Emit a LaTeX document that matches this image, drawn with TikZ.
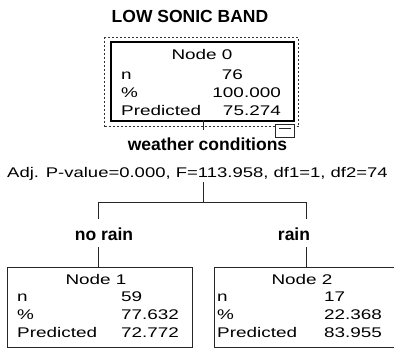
\documentclass[tikz,border=0pt]{standalone}
\usepackage{fontspec}
\setmainfont{Liberation Sans}
\newfontfamily\spss[FakeStretch=1.35]{Liberation Sans}
\newfontfamily\spssn[FakeStretch=1.32]{Liberation Sans}
\usetikzlibrary{positioning}
\tikzset{
  lbl/.style={inner sep=0pt, text=black, font=\spss\fontsize{14}{16}\selectfont},
  hdr/.style={inner sep=0pt, text=black, font=\bfseries\fontsize{17.5}{20}\selectfont},
  nodebox/.style={draw=black!85, line width=1pt, inner sep=0pt, anchor=north west},
  rootbox/.style={draw=black, line width=2pt, inner sep=0pt, anchor=north west},
  selbox/.style={draw=black!80, line width=1.4pt, dash pattern=on 2pt off 2pt, inner sep=0pt, anchor=north west},
  conn/.style={draw=black!85, line width=1pt},
}
\begin{document}
\begin{tikzpicture}[x=1pt,y=-1pt]
\useasboundingbox (0,0) rectangle (394,348);
% title
\node[hdr, anchor=base] (title) at (190,22.7) {LOW SONIC BAND};
% root node
\node[selbox, minimum width=194pt, minimum height=89pt] (sel) at (104,37) {};
\node[rootbox, minimum width=183pt, minimum height=79pt] (n0) at (110,41) {};
\node[draw=black!85, line width=1pt, inner sep=0pt, anchor=north west, minimum width=19pt, minimum height=13pt, fill=white] (col) at (275,124) {};
\draw[conn] ([xshift=-6pt,yshift=-4.5pt]col.north) -- ([xshift=6pt,yshift=-4.5pt]col.north);
\node[lbl, anchor=base] (t0) at (202,59) {Node 0};
\node[lbl, anchor=base west] (a0) at (121,79) {n};
\node[lbl, anchor=base west] (b0) at (121,97) {\%};
\node[lbl, anchor=base west] (c0) at (121,115) {Predicted};
\node[lbl, anchor=base east] (a0v) at (243,79) {76};
\node[lbl, anchor=base east] (b0v) at (281,97) {100.000};
\node[lbl, anchor=base east] (c0v) at (281,115) {75.274};
% split
\node[hdr, anchor=base] (wc) at (207.5,150) {weather conditions};
\node[lbl, font=\spssn\fontsize{14}{16}\selectfont, anchor=base west] (adj) at (7,177) {Adj. P-value=0.000, F=113.958, df1=1, df2=74};
\coordinate (r0) at (203,120);
\coordinate (r1) at (203,130);
\coordinate (s0) at (203,182);
\coordinate (s1) at (203,202);
\coordinate (hl) at (98,202);
\coordinate (hr) at (306,202);
\coordinate (dl) at (98,219);
\coordinate (dr) at (306,219);
\draw[conn] (r0) -- (r1);
\draw[conn] (s0) -- (s1);
\draw[conn] (hl) -- (hr);
\draw[conn] (hl) -- (dl);
\draw[conn] (hr) -- (dr);
% branch labels
\node[hdr, anchor=base] (l1) at (104,240) {no rain};
\node[hdr, anchor=base] (l2) at (294,240) {rain};
% child nodes
\node[nodebox, minimum width=185pt, minimum height=80pt] (n1) at (7,267) {};
\node[nodebox, minimum width=190pt, minimum height=80pt] (n2) at (214,267) {};
\coordinate (u1) at (98,247);
\coordinate (u2) at (306,247);
\draw[conn] (u1) -- (u1 |- n1.north);
\draw[conn] (u2) -- (u2 |- n2.north);
\node[lbl, anchor=base] (t1) at (96,284) {Node 1};
\node[lbl, anchor=base west] (a1) at (17,301) {n};
\node[lbl, anchor=base west] (b1) at (17,319) {\%};
\node[lbl, anchor=base west] (c1) at (17,337) {Predicted};
\node[lbl, anchor=base west] (a1v) at (121,301) {59};
\node[lbl, anchor=base west] (b1v) at (121,319) {77.632};
\node[lbl, anchor=base west] (c1v) at (121,337) {72.772};
\node[lbl, anchor=base] (t2) at (302,284) {Node 2};
\node[lbl, anchor=base west] (a2) at (217,301) {n};
\node[lbl, anchor=base west] (b2) at (217,319) {\%};
\node[lbl, anchor=base west] (c2) at (217,337) {Predicted};
\node[lbl, anchor=base west] (a2v) at (324,301) {17};
\node[lbl, anchor=base west] (b2v) at (324,319) {22.368};
\node[lbl, anchor=base west] (c2v) at (324,337) {83.955};
\end{tikzpicture}
\end{document}
